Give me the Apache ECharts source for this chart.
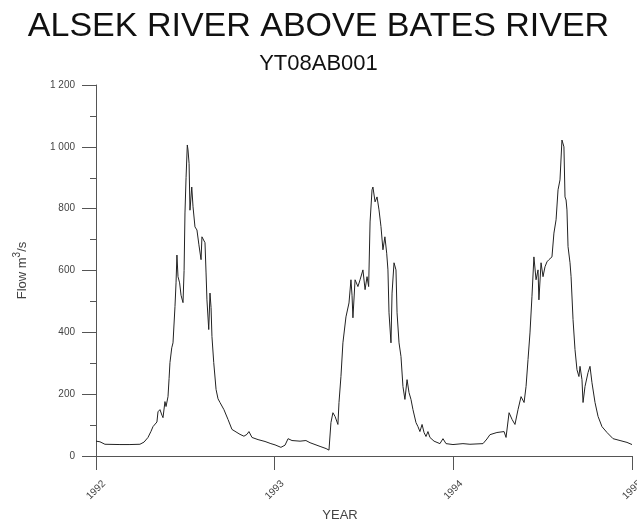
<!DOCTYPE html>
<html>
<head>
<meta charset="utf-8">
<script src="https://cdn.jsdelivr.net/npm/echarts@6/dist/echarts.min.js"></script>
<style>
  html, body { margin: 0; background: #fff; }
  #chart { width: 637px; height: 527px; }
</style>
</head>
<body>
<div id="chart"></div>
<script>
const chartTitle = 'ALSEK RIVER ABOVE BATES RIVER';
const stationId = 'YT08AB001';
const yearTicks = [1992, 1993, 1994, 1995];

// decimal year of each reading
const years = [
  1992.000, 1992.022, 1992.050, 1992.134, 1992.190, 1992.246, 1992.269, 1992.291, 1992.308, 1992.319,
  1992.330, 1992.341, 1992.347, 1992.358, 1992.369, 1992.375, 1992.386, 1992.392, 1992.403, 1992.409,
  1992.414, 1992.424, 1992.431, 1992.442, 1992.448, 1992.453, 1992.459, 1992.468, 1992.476, 1992.487,
  1992.493, 1992.498, 1992.504, 1992.511, 1992.515, 1992.521, 1992.526, 1992.536, 1992.543, 1992.554,
  1992.565, 1992.576, 1992.588, 1992.593, 1992.604, 1992.610, 1992.616, 1992.621, 1992.631, 1992.638,
  1992.644, 1992.649, 1992.659, 1992.672, 1992.683, 1992.694, 1992.716, 1992.739, 1992.761, 1992.789,
  1992.806, 1992.828, 1992.845, 1992.856, 1992.873, 1992.907, 1992.946, 1992.979, 1993.002, 1993.035,
  1993.058, 1993.075,
  1993.097, 1993.142, 1993.175, 1993.198, 1993.254, 1993.288, 1993.304, 1993.315, 1993.326, 1993.338,
  1993.354, 1993.360, 1993.371, 1993.382, 1993.399, 1993.416, 1993.427, 1993.433, 1993.438, 1993.450,
  1993.466, 1993.478, 1993.494, 1993.506, 1993.517, 1993.526, 1993.534, 1993.545, 1993.550, 1993.562,
  1993.573, 1993.584, 1993.595, 1993.606, 1993.617, 1993.627, 1993.634, 1993.640, 1993.651, 1993.657,
  1993.668, 1993.679, 1993.685, 1993.696, 1993.707, 1993.718, 1993.729, 1993.741, 1993.752, 1993.763,
  1993.774, 1993.791, 1993.802, 1993.813, 1993.825, 1993.836, 1993.847, 1993.858, 1993.869, 1993.892,
  1993.925, 1993.942, 1993.959, 1993.998,
  1994.009, 1994.054, 1994.093, 1994.166, 1994.188, 1994.205, 1994.244, 1994.284, 1994.295, 1994.312,
  1994.329, 1994.345, 1994.362, 1994.379, 1994.396, 1994.407, 1994.418, 1994.429, 1994.440, 1994.451,
  1994.463, 1994.474, 1994.479, 1994.491, 1994.502, 1994.513, 1994.524, 1994.535, 1994.552, 1994.563,
  1994.575, 1994.586, 1994.597, 1994.608, 1994.619, 1994.625, 1994.631, 1994.636, 1994.642, 1994.653,
  1994.659, 1994.670, 1994.681, 1994.692, 1994.703, 1994.709, 1994.720, 1994.726, 1994.737, 1994.754,
  1994.765, 1994.776, 1994.793, 1994.810, 1994.832, 1994.860, 1994.894, 1994.933, 1994.972, 1995.000
];

// flow in m3/s at each of those times
const flows = [
  48, 46, 38, 37, 37, 38, 45, 60, 80, 95,
  100, 110, 143, 150, 132, 124, 176, 160, 192, 250,
  302, 350, 366, 483, 560, 650, 580, 560, 520, 496,
  600, 786, 900, 1006, 990, 946, 795, 870, 806, 741,
  731, 683, 635, 709, 705, 690, 592, 505, 409, 527,
  480, 386, 302, 215, 185, 173, 150, 118, 86, 76,
  70, 64, 70, 79, 60, 53, 47, 40, 36, 28,
  35, 56,
  50, 48, 50, 43, 31, 24, 19, 108, 140, 128,
  102, 173, 257, 366, 450, 495, 570, 520, 447, 570,
  548, 570, 602, 538, 580, 548, 757, 861, 870, 822,
  838, 796, 742, 667, 709, 656, 602, 463, 366, 527,
  625, 602, 463, 366, 322, 225, 183, 247, 205, 183,
  150, 108, 95, 79, 102, 76, 63, 79, 60, 48,
  40, 56, 40, 37,
  40, 40, 38, 40, 55, 69, 76, 79, 60, 140,
  118, 102, 150, 192, 173, 225, 312, 398, 515, 644,
  570, 602, 505, 625, 580, 612, 628, 635, 644, 721,
  764, 861, 893, 1022, 1000, 838, 828, 796, 677, 625,
  580, 441, 344, 279, 257, 290, 247, 173, 225, 270,
  290, 237, 173, 128, 95, 76, 56, 50, 44, 37
];

const chart = echarts.init(document.getElementById('chart'));

const axisGrey = '#555';
const font = 'Liberation Sans, Arial, sans-serif';

chart.setOption({
  animation: false,
  title: [
    {
      text: chartTitle,
      left: 'center',
      top: 5,
      textStyle: { fontFamily: font, fontSize: 34, fontWeight: 'normal', color: '#111' }
    },
    {
      text: stationId,
      left: 'center',
      top: 48,
      textStyle: { fontFamily: font, fontSize: 22, fontWeight: 'normal', color: '#111' }
    }
  ],
  grid: { left: 96, right: 5, top: 85, bottom: 71, outerBoundsMode: 'none' },
  xAxis: {
    type: 'value',
    min: yearTicks[0],
    max: yearTicks[yearTicks.length - 1],
    interval: 1,
    name: 'YEAR',
    nameLocation: 'middle',
    nameGap: 53,
    nameTextStyle: { fontFamily: font, fontSize: 13, color: '#444', padding: [0, 48, 0, 0] },
    axisLine: { lineStyle: { color: axisGrey, width: 1 } },
    axisTick: { length: 14, lineStyle: { color: axisGrey } },
    axisLabel: {
      rotate: 45,
      align: 'center',
      verticalAlign: 'middle',
      margin: 34,
      fontFamily: font,
      fontSize: 10,
      color: '#444',
      showMaxLabel: true,
      formatter: (v) => String(v)
    },
    splitLine: { show: false }
  },
  yAxis: {
    type: 'value',
    min: 0,
    max: 1200,
    interval: 200,
    name: '{t|Flow m}{sup|3}{t|/s}',
    nameLocation: 'middle',
    nameGap: 64,
    nameTextStyle: {
      rich: {
        t: { fontFamily: font, fontSize: 13, color: '#444' },
        sup: { fontFamily: font, fontSize: 10, color: '#444', padding: [0, 0, 10, 0] }
      }
    },
    axisLine: { show: true, lineStyle: { color: axisGrey, width: 1 } },
    axisTick: { show: true, length: 14, lineStyle: { color: axisGrey } },
    minorTick: { show: true, splitNumber: 2, length: 6, lineStyle: { color: axisGrey } },
    axisLabel: {
      margin: 21,
      fontFamily: font,
      fontSize: 10,
      color: '#444',
      formatter: (v) => (v >= 1000 ? String(v).replace(/(\d)(\d{3})$/, '$1 $2') : String(v))
    },
    splitLine: { show: false }
  },
  series: [
    {
      type: 'line',
      data: years.map((t, i) => [t, flows[i]]),
      showSymbol: false,
      lineStyle: { color: '#222', width: 1 },
      silent: true
    }
  ]
});
</script>
</body>
</html>
